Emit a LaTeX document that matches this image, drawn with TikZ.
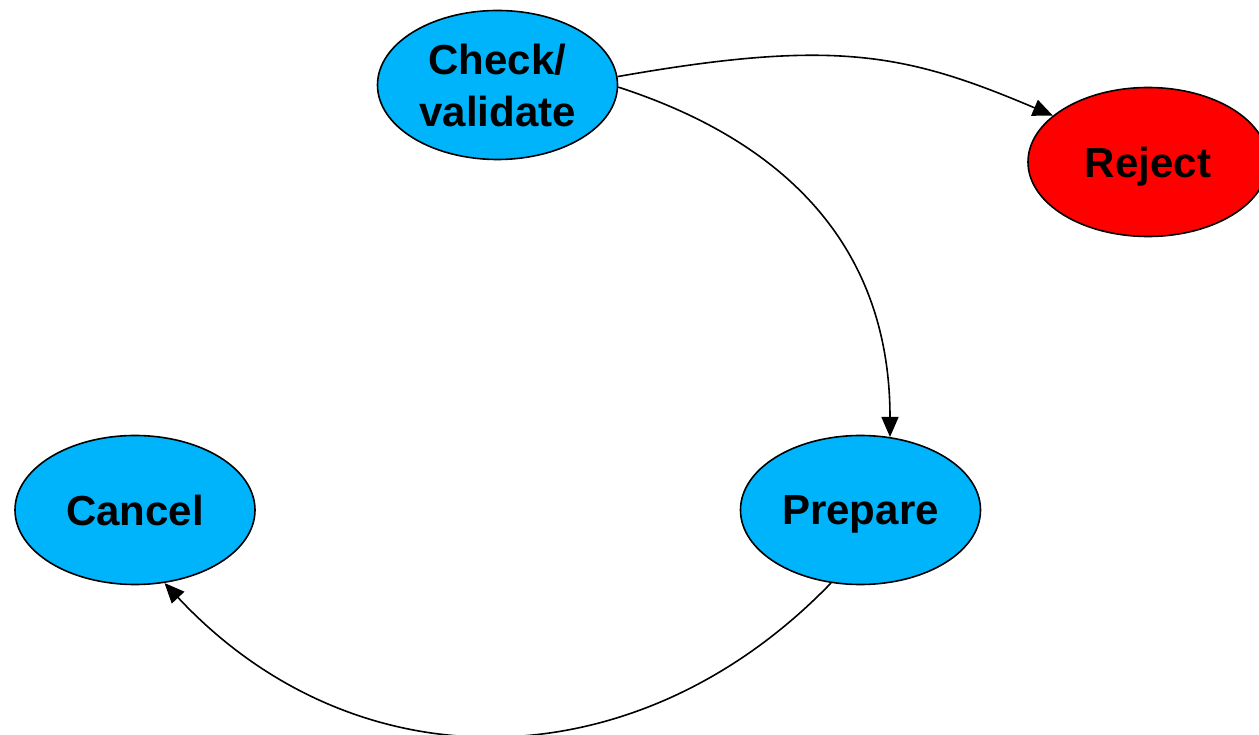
\documentclass[tikz,border=0pt]{standalone}
\usepackage{fontspec}
\setmainfont{Liberation Sans}
\usetikzlibrary{shapes.geometric,arrows.meta}
\definecolor{stateblue}{RGB}{0,180,252}
\definecolor{statered}{RGB}{255,0,0}
\tikzset{
  state/.style={ellipse, draw=black, line width=1.6pt, fill=stateblue,
    minimum width=240pt, minimum height=149pt, inner sep=0pt,
    font=\fontsize{42}{52}\selectfont\bfseries, align=center},
  oneline/.style={text depth=0pt},
  conn/.style={draw=black, line width=1.6pt,
    -{Triangle[length=20pt,width=17pt]}}
}
\begin{document}
\begin{tikzpicture}[x=1pt,y=1pt]
  \useasboundingbox (0,0) rectangle (1259,734);

  % states of the workflow
  \node[state] (chk) at (497.5,649) {Check/\\validate};
  \node[state, oneline, fill=statered] (rej) at (1148,572) {Reject};
  \node[state, oneline] (can) at (135,224) {Cancel};
  \node[state, oneline] (prep) at (860.5,224) {Prepare};

  % transitions
  \draw[conn] (chk.4) to[out=10, in=157, out distance=220pt, in distance=160pt] (rej.154);
  \draw[conn] (chk.-1.5) to[out=-18, in=90, out distance=200pt, in distance=170pt] (prep.68);
  \draw[conn] (prep.248) to[out=226, in=313, distance=280pt] (can.292);
\end{tikzpicture}
\end{document}
